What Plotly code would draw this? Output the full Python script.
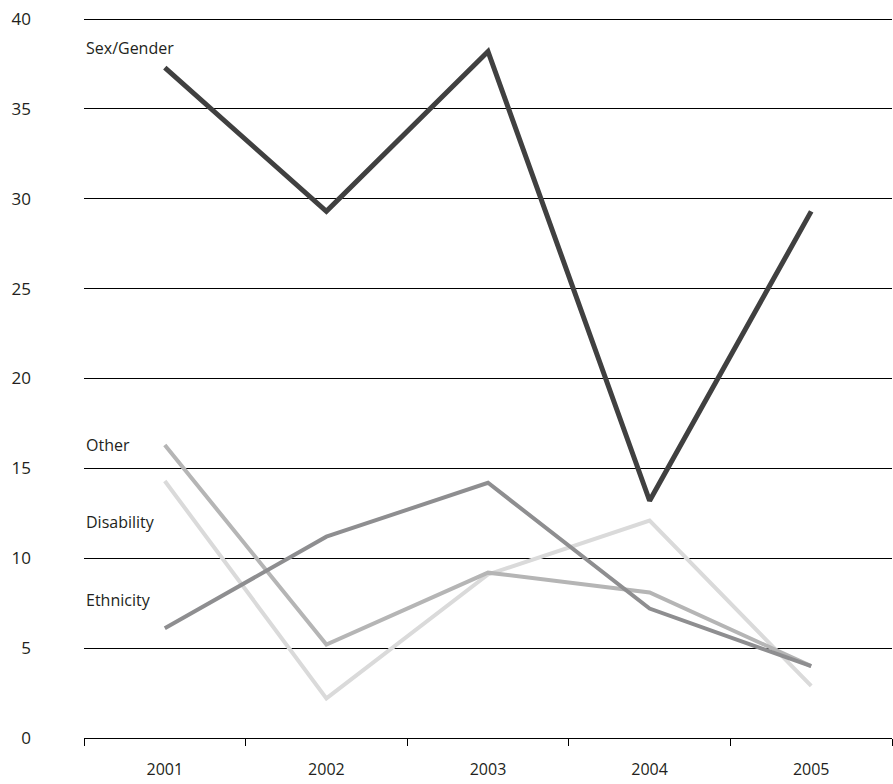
import plotly.graph_objects as go

years = ["2001", "2002", "2003", "2004", "2005"]
sex_gender = [37.3, 29.3, 38.2, 13.2, 29.3]
ethnicity = [6.1, 11.2, 14.2, 7.2, 4.0]
other = [16.3, 5.2, 9.2, 8.1, 4.0]
disability = [14.3, 2.2, 9.1, 12.1, 2.9]

y_ticks = [0, 5, 10, 15, 20, 25, 30, 35, 40]

series = [
    ("Disability", disability, "#dadada", 4),
    ("Other", other, "#b5b5b5", 4),
    ("Ethnicity", ethnicity, "#8e8e90", 4),
    ("Sex/Gender", sex_gender, "#404040", 5),
]

label_pos = [
    ("Sex/Gender", 38.4),
    ("Other", 16.3),
    ("Disability", 12.0),
    ("Ethnicity", 7.7),
]

FONT = "Open Sans"
TXT = "#231f20"

fig = go.Figure()
for name, vals, color, w in series:
    fig.add_trace(go.Scatter(
        x=years, y=vals, mode="lines", name=name,
        line=dict(color=color, width=w),
        hoverinfo="skip",
    ))

for text, yv in label_pos:
    fig.add_annotation(
        x=0, xref="paper", y=yv, yref="y", text=text,
        xanchor="left", yanchor="middle", showarrow=False,
        xshift=0, font=dict(family=FONT, size=16, color=TXT),
    )

fig.update_layout(
    width=893, height=784,
    margin=dict(l=84, r=1, t=18, b=46),
    paper_bgcolor="white", plot_bgcolor="white",
    showlegend=False,
    font=dict(family=FONT, size=16, color=TXT),
    xaxis=dict(
        type="category", range=[-0.5, 4.5],
        showline=True, linecolor="#000000", linewidth=1,
        ticks="outside", ticklen=7, tickwidth=1, tickcolor="#000000",
        tickson="boundaries", showgrid=False, zeroline=False,
        ticklabelstandoff=17,
        tickfont=dict(family=FONT, size=16, color=TXT),
    ),
    yaxis=dict(
        range=[0, 40.06], tickvals=y_ticks,
        ticktext=[str(v) for v in y_ticks],
        showgrid=True, gridcolor="#000000", gridwidth=1,
        zeroline=False, showline=False, ticks="",
        ticklabelstandoff=52,
        tickfont=dict(family=FONT, size=17, color=TXT),
    ),
)

fig.write_html("out.html")
